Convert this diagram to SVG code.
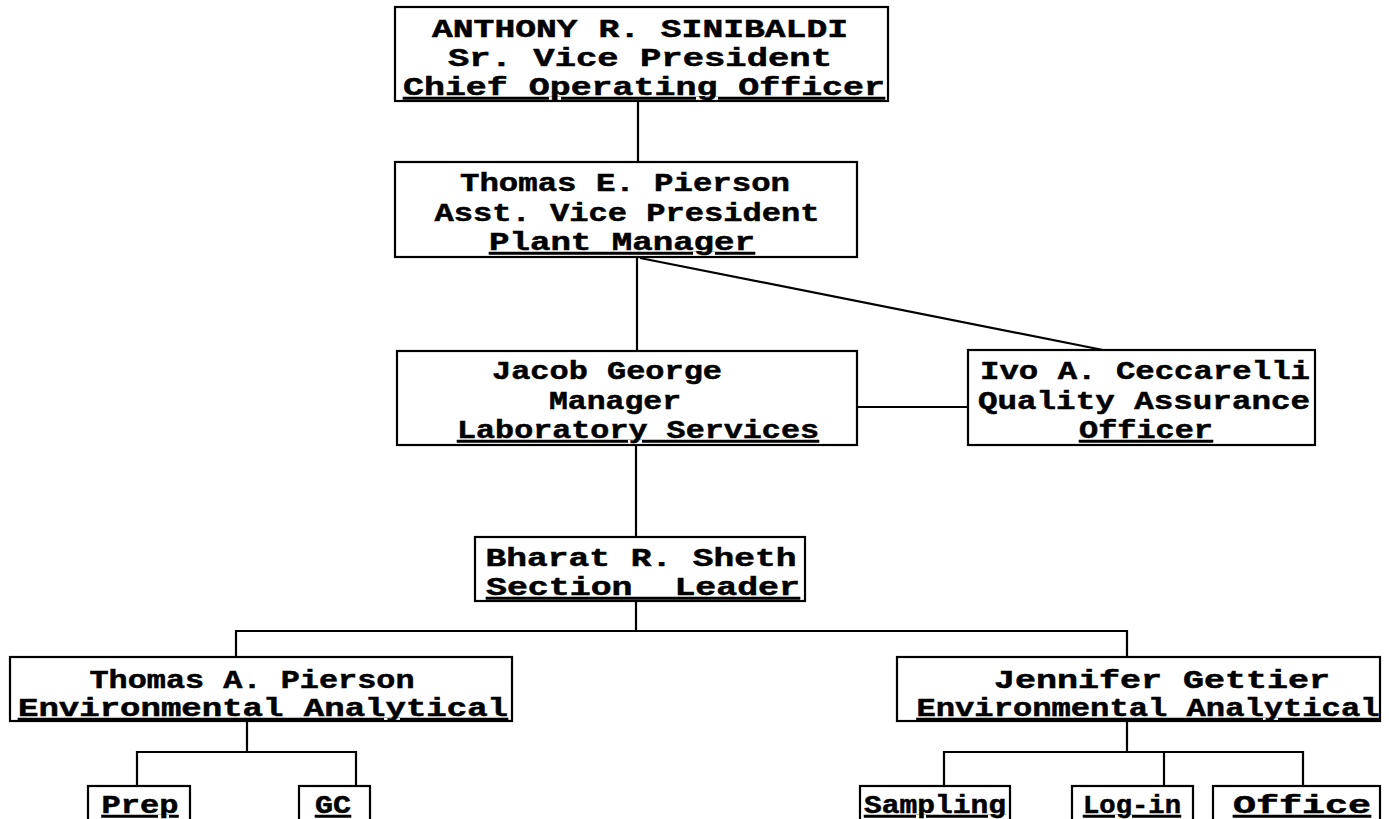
<svg xmlns="http://www.w3.org/2000/svg" width="1389" height="819" viewBox="0 0 1389 819">
<style>
.box{fill:#fff;stroke:#000;stroke-width:2.2}
.t{font-family:"Liberation Mono","Courier New",monospace;font-weight:bold;font-size:25px;fill:#000;stroke:#000;stroke-width:0.5;text-anchor:middle;white-space:pre}
.u{text-decoration:underline}
.c{fill:none;stroke:#000;stroke-width:2.2}
</style>
<rect width="1389" height="819" fill="#fff"/>
<g id="connectors">
<line class="c" x1="638" y1="101" x2="638" y2="162"/>
<line class="c" x1="637" y1="257" x2="637" y2="351"/>
<line class="c" x1="640" y1="258" x2="1103" y2="350"/>
<line class="c" x1="857" y1="407" x2="968" y2="407"/>
<line class="c" x1="636" y1="445" x2="636" y2="537"/>
<path class="c" d="M636 601 V631 M236 657 V631 H1127 V657"/>
<path class="c" d="M247 721 V752 M137 786 V752 H356 V786"/>
<path class="c" d="M1127 721 V752 M944 786 V752 H1303 V786 M1164 752 V786"/>
</g>
<g id="n1">
<rect class="box" x="395" y="7" width="493" height="94"/>
<text class="t" x="640" y="37" textLength="416" lengthAdjust="spacingAndGlyphs">ANTHONY R. SINIBALDI</text>
<text class="t" x="640" y="66" textLength="384" lengthAdjust="spacingAndGlyphs">Sr. Vice President</text>
<text class="t u" x="644" y="95" textLength="482" lengthAdjust="spacingAndGlyphs">Chief Operating Officer</text>
</g>
<g id="n2">
<rect class="box" x="395" y="162" width="462" height="95"/>
<text class="t" x="625" y="191" textLength="330" lengthAdjust="spacingAndGlyphs">Thomas E. Pierson</text>
<text class="t" x="627" y="221" textLength="385" lengthAdjust="spacingAndGlyphs">Asst. Vice President</text>
<text class="t u" x="622" y="250" textLength="266" lengthAdjust="spacingAndGlyphs">Plant Manager</text>
</g>
<g id="n3">
<rect class="box" x="397" y="351" width="460" height="94"/>
<text class="t" x="607" y="379" textLength="230" lengthAdjust="spacingAndGlyphs">Jacob George</text>
<text class="t" x="615" y="409" textLength="132" lengthAdjust="spacingAndGlyphs">Manager</text>
<text class="t u" x="638" y="438" textLength="362" lengthAdjust="spacingAndGlyphs">Laboratory Services</text>
</g>
<g id="n4">
<rect class="box" x="968" y="350" width="347" height="95"/>
<text class="t" x="1145" y="379" textLength="330" lengthAdjust="spacingAndGlyphs">Ivo A. Ceccarelli</text>
<text class="t" x="1144" y="409" textLength="332" lengthAdjust="spacingAndGlyphs">Quality Assurance</text>
<text class="t u" x="1146" y="438" textLength="134" lengthAdjust="spacingAndGlyphs">Officer</text>
</g>
<g id="n5">
<rect class="box" x="475" y="537" width="330" height="64"/>
<text class="t" x="641" y="566" textLength="311" lengthAdjust="spacingAndGlyphs">Bharat R. Sheth</text>
<text class="t u" x="643" y="595" textLength="314" lengthAdjust="spacingAndGlyphs">Section  Leader</text>
</g>
<g id="n6">
<rect class="box" x="10" y="657" width="502" height="64"/>
<text class="t" x="252" y="688" textLength="325" lengthAdjust="spacingAndGlyphs">Thomas A. Pierson</text>
<text class="t u" x="263" y="716" textLength="490" lengthAdjust="spacingAndGlyphs">Environmental Analytical</text>
</g>
<g id="n7">
<rect class="box" x="897" y="657" width="483" height="64"/>
<text class="t" x="1162" y="688" textLength="336" lengthAdjust="spacingAndGlyphs">Jennifer Gettier</text>
<text class="t u" x="1148" y="716" textLength="463" lengthAdjust="spacingAndGlyphs">Environmental Analytical</text>
</g>
<g id="n8">
<rect class="box" x="88" y="786" width="102" height="40"/>
<text class="t u" x="140" y="813" textLength="77" lengthAdjust="spacingAndGlyphs">Prep</text>
</g>
<g id="n9">
<rect class="box" x="299" y="786" width="71" height="40"/>
<text class="t u" x="333" y="813" textLength="36" lengthAdjust="spacingAndGlyphs">GC</text>
</g>
<g id="n10">
<rect class="box" x="860" y="786" width="150" height="40"/>
<text class="t u" x="935" y="813" textLength="142" lengthAdjust="spacingAndGlyphs">Sampling</text>
</g>
<g id="n11">
<rect class="box" x="1072" y="786" width="121" height="40"/>
<text class="t u" x="1132" y="813" textLength="98" lengthAdjust="spacingAndGlyphs">Log-in</text>
</g>
<g id="n12">
<rect class="box" x="1213" y="786" width="167" height="40"/>
<text class="t u" x="1302" y="813" textLength="138" lengthAdjust="spacingAndGlyphs">Office</text>
</g>
</svg>
